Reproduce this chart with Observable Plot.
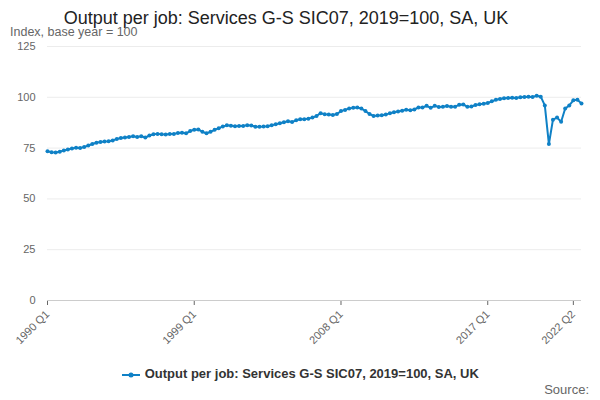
<!DOCTYPE html>
<html><head>
<script src="https://cdn.jsdelivr.net/npm/d3@7"></script>
<script src="https://cdn.jsdelivr.net/npm/@observablehq/plot@0.6"></script>
<style>
body{margin:0;font-family:"Liberation Sans",Arial,sans-serif;background:#fff;width:600px;height:400px;position:relative}
#t{position:absolute;top:8px;left:-14px;width:600px;text-align:center;font-size:18px;color:#222}
#s{position:absolute;top:25px;left:10px;font-size:12.5px;color:#666}
#c{position:absolute;top:30px;left:0}
#l{position:absolute;top:366px;left:0;width:600px;text-align:center;font-size:13px;font-weight:bold;color:#333}
#src{position:absolute;top:382px;right:11px;font-size:13px;color:#666}
</style></head><body>
<div id="t">Output per job: Services G-S SIC07, 2019=100, SA, UK</div>
<div id="s">Index, base year = 100</div>
<div id="c"></div>
<div id="l"><svg width="20" height="10" style="vertical-align:middle"><line x1="1" y1="5" x2="19" y2="5" stroke="#0f81c6" stroke-width="2"/><circle cx="10" cy="5" r="2.5" fill="#0f81c6"/></svg> Output per job: Services G-S SIC07, 2019=100, SA, UK</div>
<div id="src">Source:</div>
<script>
const startYear = 1990;
const values = [
73.5,73,72.8,73.2, 73.8,74.3,74.8,75.2, 75,75.5,76.3,77, 77.6,78,78.3,78.4,
78.8,79.5,80,80.2, 80.5,80.8,80.5,80.8, 80.2,81.2,81.8,82, 81.8,81.7,81.9,82,
82.4,82.6,82.3,83.4, 84,84.2,83,82.3, 83,84,84.8,85.6, 86.2,86,85.8,85.9,
85.9,86.3,86.1,85.5, 85.5,85.6,85.8,86.3, 86.7,87.2,87.7,88.2, 87.8,88.7,89.2,89.2,
89.5,90,90.8,92.2, 91.7,91.5,91.3,91.8, 93.2,93.8,94.5,94.8, 95,94.5,93.2,91.8,
90.8,91,91.2,91.5, 92.2,92.6,93,93.4, 93.9,93.6,94,95, 95,95.8,94.8,95.8,
95.2,95.3,95.7,95.3, 95.4,96.3,96.5,95.3, 95.5,96.2,96.6,96.8, 97.2,98,98.8,99.2,
99.5,99.7,99.8,99.7, 100,100.2,100.3,100.1, 100.8,100.3,
96,77,89,90, 88,94.5,96,98.5, 98.8,97
];
const tickLabels = ["1990 Q1","1999 Q1","2008 Q1","2017 Q1","2022 Q2"];
const data = values.map((v,i)=>({i, v, label:`${startYear+Math.floor(i/4)} Q${i%4+1}`}));
const tickIdx = tickLabels.map(t=>data.findIndex(d=>d.label===t));
const chart = Plot.plot({
  width:600, height:320,
  marginLeft:47, marginRight:19, marginTop:16, marginBottom:50,
  style:{fontFamily:"Liberation Sans, Arial, sans-serif", fontSize:"11px", color:"#666"},
  x:{domain:[0,values.length-1], ticks:tickIdx, tickFormat:i=>data[i].label, tickRotate:-45, label:null, tickSize:5},
  y:{domain:[0,125], ticks:[0,25,50,75,100,125], label:null, grid:true, tickSize:0, tickPadding:12},
  marks:[
    Plot.ruleY([0],{stroke:"#ccc"}),
    Plot.line(data,{x:"i",y:"v",stroke:"#0f81c6",strokeWidth:2}),
    Plot.dot(data,{x:"i",y:"v",fill:"#0f81c6",r:2})
  ]
});
chart.querySelectorAll("[aria-label='y-grid'] line").forEach(l=>l.setAttribute("stroke-opacity","0.12"));
document.getElementById("c").appendChild(chart);
</script>
</body></html>
